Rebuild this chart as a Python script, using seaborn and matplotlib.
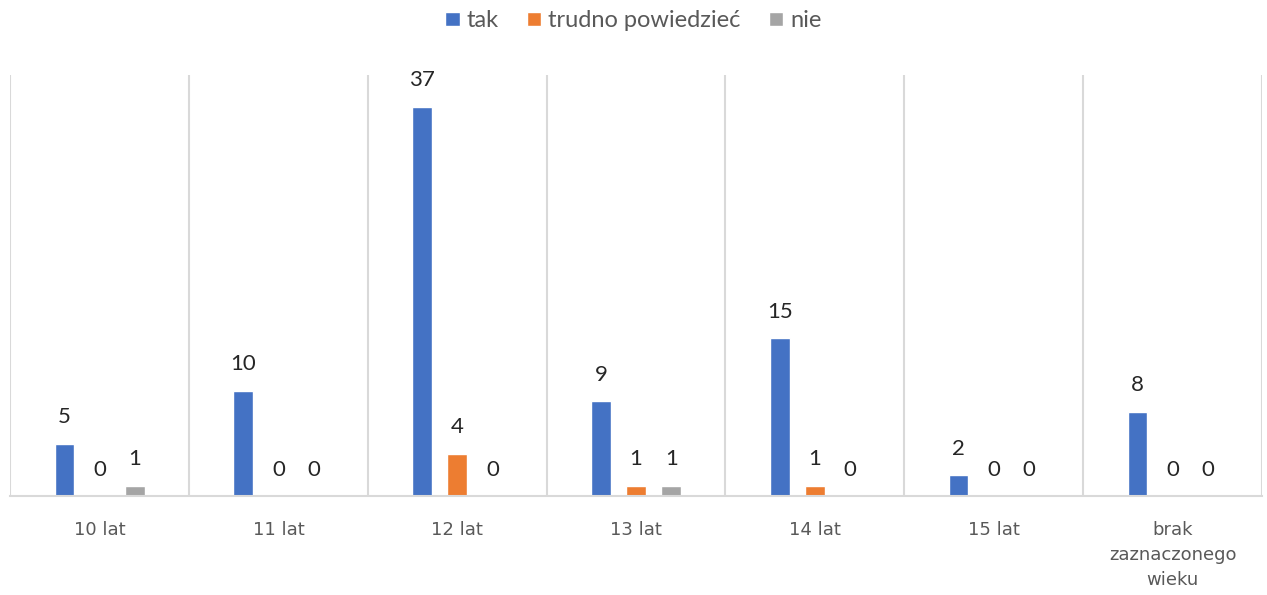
import pandas as pd
import seaborn as sns
import matplotlib.pyplot as plt

sns.set_style("white")

categories = ['10 lat', '11 lat', '12 lat', '13 lat', '14 lat', '15 lat',
              'brak\nzaznaczonego\nwieku']
series = ['tak', 'trudno powiedzieć', 'nie']
tak = [5, 10, 37, 9, 15, 2, 8]
trudno = [0, 0, 4, 1, 1, 0, 0]
nie = [1, 0, 0, 1, 0, 0, 0]
colors = ['#4472C4', '#ED7D31', '#A5A5A5']

plt.rcParams['font.family'] = ['Lato', 'DejaVu Sans']

rows = []
for name, vals in zip(series, [tak, trudno, nie]):
    for cat, v in zip(categories, vals):
        rows.append((cat, v, name))
df = pd.DataFrame(rows, columns=['wiek', 'liczba', 'odpowiedz'])

fig = plt.figure(figsize=(12.67, 5.95), dpi=100)
ax = fig.add_axes([0.008, 0.166, 0.988, 0.708])

sns.barplot(data=df, x='wiek', y='liczba', hue='odpowiedz', order=categories,
            hue_order=series, palette=colors, width=0.59, gap=0.44,
            saturation=1, ax=ax)

for cont in ax.containers:
    ax.bar_label(cont, padding=12, fontsize=16, color='#262626')

ax.set_ylim(0, 40)
ax.set_xlim(-0.5, len(categories) - 0.5)
ax.set_yticks([])
ax.set_xticks(range(len(categories)))
ax.set_xticklabels(categories, fontsize=13, color='#595959', linespacing=1.5,
                   family='DejaVu Sans')
ax.set_xticks([i - 0.5 for i in range(len(categories) + 1)], minor=True)
ax.grid(which='minor', axis='x', color='#d9d9d9', linewidth=1.5)
ax.tick_params(axis='x', which='both', length=0, pad=18)
ax.set_xlabel('')
ax.set_ylabel('')
for s in ['top', 'left', 'right']:
    ax.spines[s].set_visible(False)
ax.spines['bottom'].set_color('#d9d9d9')
ax.spines['bottom'].set_linewidth(1.5)
ax.set_axisbelow(True)

handles, labels = ax.get_legend_handles_labels()
ax.get_legend().remove()
fig.legend(handles, labels, loc='center', bbox_to_anchor=(0.5, 0.965), ncol=3,
           frameon=False, fontsize=17, handlelength=0.6, handleheight=0.6,
           handletextpad=0.3, columnspacing=1.2, labelcolor='#595959')

fig.savefig('out.png', dpi=100)
